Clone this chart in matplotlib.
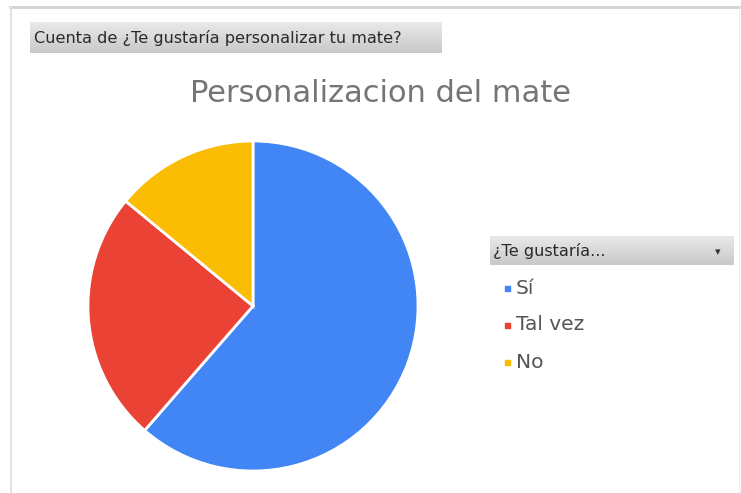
import numpy as np
import matplotlib
matplotlib.use("Agg")
import matplotlib.pyplot as plt
from matplotlib.colors import LinearSegmentedColormap

# Survey answers: "¿Te gustaría personalizar tu mate?"
categories = ["Sí", "Tal vez", "No"]
counts = [35, 14, 8]
colors = ["#4285F4", "#EA4335", "#FBBC04"]

title = "Personalizacion del mate"
header_label = "Cuenta de ¿Te gustaría personalizar tu mate?"
legend_label = "¿Te gustaría..."

W, H = 741, 493
fig = plt.figure(figsize=(W / 100, H / 100), dpi=100)
fig.patch.set_facecolor("white")

# Overlay axes in pixel coordinates for frame, header boxes and legend
ov = fig.add_axes([0, 0, 1, 1])
ov.set_xlim(0, W)
ov.set_ylim(H, 0)
ov.axis("off")

# Sheet frame lines
ov.plot([10, W], [7, 7], color="#d0d0d0", lw=2.0)
ov.plot([11, 11], [7, H], color="#e2e2e2", lw=1.5)
ov.plot([739, 739], [7, H], color="#f0f0f0", lw=1.0)

grad = LinearSegmentedColormap.from_list("hdr", ["#e9e9e9", "#c9c9c9"])
g = np.linspace(0, 1, 64).reshape(-1, 1)


def gradient_box(x0, y0, x1, y1):
    ov.imshow(g, cmap=grad, extent=(x0, x1, y1, y0), aspect="auto",
              interpolation="bicubic", zorder=1)


gradient_box(30, 22, 442, 53)
ov.text(34, 38, header_label, fontsize=11.6, color="#2a2a2a",
        va="center", ha="left", family="DejaVu Sans", zorder=2)

ov.text(381, 93, title, fontsize=22, color="#757575",
        va="center", ha="center", family="DejaVu Sans", zorder=2)

gradient_box(490, 236, 734, 265)
ov.text(493, 251, legend_label, fontsize=11.6, color="#2a2a2a",
        va="center", ha="left", family="DejaVu Sans", zorder=2)
ov.text(718, 252, "▾", fontsize=8, color="#333333",
        va="center", ha="center", family="DejaVu Sans", zorder=2)

# Legend entries
leg_y = [288, 325, 362]
for lab, col, y in zip(categories, colors, leg_y):
    ov.add_patch(plt.Rectangle((505, y - 2.5), 5, 5, color=col, zorder=2))
    ov.text(516, y, lab, fontsize=14.5, color="#555555",
            va="center", ha="left", family="DejaVu Sans", zorder=2)
ov.set_xlim(0, W)
ov.set_ylim(H, 0)

# Pie
cx, cy, r = 253, 306, 165
pax = fig.add_axes([(cx - r) / W, (H - cy - r) / H, 2 * r / W, 2 * r / H])
pax.pie(counts, colors=colors, startangle=90, counterclock=False,
        wedgeprops=dict(edgecolor="white", linewidth=2))
pax.set_xlim(-1.0, 1.0)
pax.set_ylim(-1.0, 1.0)
pax.set_aspect("equal")
pax.axis("off")

fig.savefig("out.png", dpi=100, facecolor="white")
